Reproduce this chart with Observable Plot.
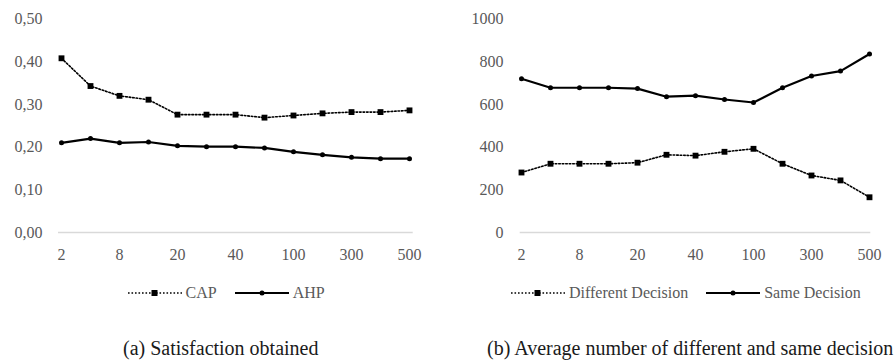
<!DOCTYPE html>
<html>
<head>
<meta charset="utf-8">
<script src="https://cdn.jsdelivr.net/npm/d3@7"></script>
<script src="https://cdn.jsdelivr.net/npm/@observablehq/plot@0.6"></script>
<style>
  html, body { margin: 0; padding: 0; background: #fff; }
  #wrap { position: relative; width: 896px; height: 361px; overflow: hidden; font-family: "Liberation Serif", "DejaVu Serif", "Noto Serif", Times, serif; }
  .panel { position: absolute; top: 0; width: 448px; height: 361px; }
  .legend { position: absolute; top: 284px; display: flex; align-items: center; color: #595959; font-size: 16px; white-space: nowrap; }
  .legend .item { display: flex; align-items: center; margin-right: 18px; }
  .legend svg { margin-right: 4px; }
  .caption { position: absolute; top: 336px; color: #1a1a1a; font-size: 20px; white-space: nowrap; line-height: 24px; }
  .test1 { font-family: "Liberation Serif"; }
</style>
</head>
<body>
<div id="wrap">
  <div class="panel" id="pa" style="left:0"></div>
  <div class="panel" id="pb" style="left:448px"></div>
</div>
<script>
// categories (unlabelled intermediate categories are estimates)
const categories = ["2","5","8","10","20","30","40","50","100","200","300","400","500"];
const tickLabels = ["2","8","20","40","100","300","500"];

// (a) Satisfaction obtained
const capValues = [0.408,0.343,0.320,0.311,0.276,0.276,0.276,0.269,0.274,0.279,0.282,0.282,0.286];
const ahpValues = [0.210,0.220,0.210,0.212,0.203,0.201,0.201,0.198,0.189,0.182,0.176,0.173,0.173];
const yTicksA = [0,0.1,0.2,0.3,0.4,0.5];

// (b) Average number of different and same decision
const differentValues = [281,322,322,322,327,364,360,378,392,322,267,244,165];
const sameValues = [720,678,678,678,674,636,641,623,609,678,733,756,836];
const yTicksB = [0,200,400,600,800,1000];

const seriesA = ["CAP","AHP"];
const seriesB = ["Different Decision","Same Decision"];
const captions = ["(a) Satisfaction obtained", "(b) Average number of different and same decision"];

const FONT = "'Liberation Serif', 'DejaVu Serif', 'Noto Serif', Times, serif";

function rows(vals) { return categories.map((c, i) => ({x: c, y: vals[i]})); }

function makeChart(opt) {
  const dotted = rows(opt.dottedVals);
  const solid = rows(opt.solidVals);
  return Plot.plot({
    width: 448,
    height: 270,
    marginTop: 18.5,
    marginBottom: 38,
    marginLeft: opt.ml,
    marginRight: opt.mr,
    style: {fontFamily: FONT, fontSize: "16px", color: "#595959", background: "transparent"},
    x: {type: "point", domain: categories, padding: 0},
    y: {domain: opt.domain},
    marks: [
      Plot.ruleY([0], {stroke: "#d9d9d9", strokeWidth: 1.5}),
      Plot.axisX({ticks: tickLabels, tickSize: 0, tickPadding: 16, label: null, fill: "#595959"}),
      Plot.axisY({ticks: opt.ticks, tickSize: 0, tickPadding: opt.tp, tickFormat: opt.fmt, label: null, fill: "#595959"}),
      Plot.line(dotted, {x: "x", y: "y", stroke: "#000", strokeWidth: 1.6, strokeDasharray: "1.6,1.9"}),
      Plot.dot(dotted, {x: "x", y: "y", symbol: "square", r: 3.3, fill: "#000"}),
      Plot.line(solid, {x: "x", y: "y", stroke: "#000", strokeWidth: 2.2}),
      Plot.dot(solid, {x: "x", y: "y", symbol: "circle", r: 2.5, fill: "#000"})
    ]
  });
}

function legend(names) {
  const div = document.createElement("div");
  div.className = "legend";
  const sw = [
    '<svg width="54" height="10"><line x1="0" y1="5" x2="54" y2="5" stroke="#000" stroke-width="1.6" stroke-dasharray="1.6,1.9"/><rect x="23.5" y="2" width="6" height="6" fill="#000"/></svg>',
    '<svg width="54" height="10"><line x1="0" y1="5" x2="54" y2="5" stroke="#000" stroke-width="2.2"/><circle cx="27" cy="5" r="2.5" fill="#000"/></svg>'
  ];
  names.forEach((n, i) => {
    const it = document.createElement("div");
    it.className = "item";
    it.innerHTML = sw[i] + "<span>" + n + "</span>";
    div.appendChild(it);
  });
  return div;
}

function build(el, chart, names, cap, center, capRight) {
  el.appendChild(chart);
  chart.style.position = "absolute"; chart.style.left = "0"; chart.style.top = "0";
  const lg = legend(names);
  el.appendChild(lg);
  lg.style.left = (center - lg.offsetWidth / 2) + "px";
  const c = document.createElement("div");
  c.className = "caption";
  c.textContent = cap;
  el.appendChild(c);
  let left = capRight.center - c.offsetWidth / 2;
  if (left + c.offsetWidth > capRight.max) left = capRight.max - c.offsetWidth;
  c.style.left = left + "px";
}

const fmtA = d => d3.format(".2f")(d).replace(".", ",");
const fmtB = d3.format("d");

build(document.getElementById("pa"),
  makeChart({dottedVals: capValues, solidVals: ahpValues, domain: [0, 0.5], ticks: yTicksA, fmt: fmtA, ml: 58, mr: 35.3, tp: 16}),
  seriesA, captions[0], 235, {center: 221, max: 440});
build(document.getElementById("pb"),
  makeChart({dottedVals: differentValues, solidVals: sameValues, domain: [0, 1000], ticks: yTicksB, fmt: fmtB, ml: 71.7, mr: 25.7, tp: 16.7}),
  seriesB, captions[1], 247, {center: 242, max: 446});
</script>
</body>
</html>
